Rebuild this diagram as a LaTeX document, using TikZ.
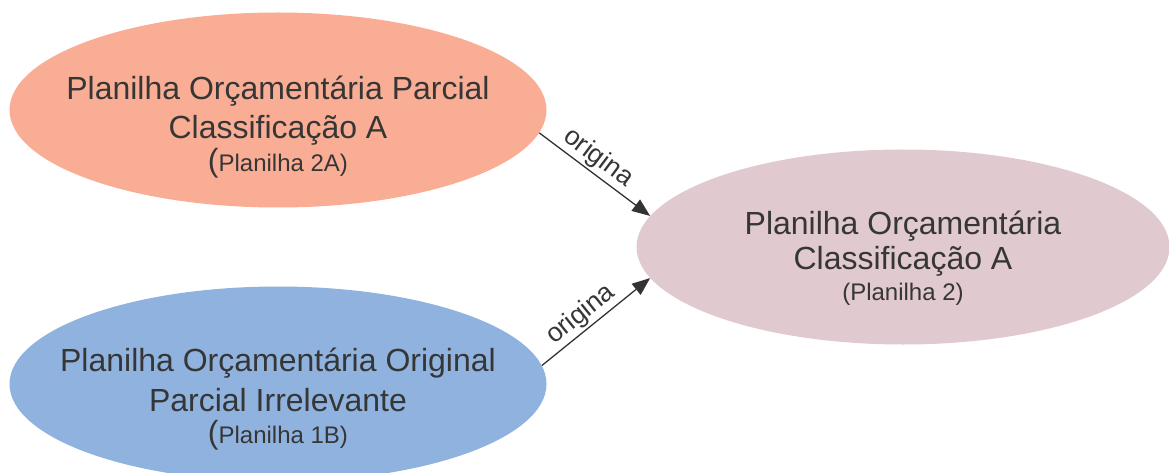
\documentclass[tikz,border=0pt]{standalone}
\usepackage{fontspec}
\setmainfont{Liberation Sans}
\usetikzlibrary{shapes.geometric,arrows.meta}
\definecolor{txt}{HTML}{363636}
\definecolor{salmon}{HTML}{F9AD94}
\definecolor{skyblue}{HTML}{8FB3DE}
\definecolor{rosegray}{HTML}{E0C9CF}
\definecolor{linecol}{HTML}{333333}
\begin{document}
\begin{tikzpicture}[x=1pt,y=-1pt,
  blob/.style={ellipse, draw=none, inner sep=0pt, minimum width=537pt, minimum height=195pt},
  bigtxt/.style={anchor=base, inner sep=0pt, text=txt, font=\fontsize{32}{38}\selectfont},
  smalltxt/.style={anchor=base, inner sep=0pt, text=txt, font=\fontsize{24}{30}\selectfont},
  conn/.style={draw=linecol, line width=1.3pt, -{Triangle[length=18pt,width=14pt]}},
  lab/.style={text=txt, font=\fontsize{26.5}{30}\selectfont, inner sep=2pt}]
\useasboundingbox (0,0) rectangle (1169,473);
% ellipses
\node[blob, fill=salmon] (a) at (278,110) {};
\node[blob, fill=skyblue] (b) at (278,384) {};
\node[blob, fill=rosegray, minimum width=533pt] (c) at (903,247) {};
% texts top
\node[bigtxt] (a1) at (278,99.5) {Planilha Orçamentária Parcial};
\node[bigtxt] (a2) at (278,138.5) {Classificação A};
\node[smalltxt] (a3) at (278,171.5) {{\fontsize{32}{38}\selectfont(}Planilha 2A)};
% texts bottom
\node[bigtxt] (b1) at (278,371.5) {Planilha Orçamentária Original};
\node[bigtxt] (b2) at (278,411.5) {Parcial Irrelevante};
\node[smalltxt] (b3) at (278,443.5) {{\fontsize{32}{38}\selectfont(}Planilha 1B)};
% texts right
\node[bigtxt] (c1) at (903,234.5) {Planilha Orçamentária};
\node[bigtxt] (c2) at (903,269.5) {Classificação A};
\node[smalltxt] (c3) at (903,300.5) {(Planilha 2)};
% connectors
\draw[conn] (a.-5.1) -- node[lab, above, sloped, pos=0.45] (l1) {origina} (c.173.5);
\draw[conn] (b.4.9) -- node[lab, above, sloped, pos=0.45] (l2) {origina} (c.187);
\end{tikzpicture}
\end{document}
